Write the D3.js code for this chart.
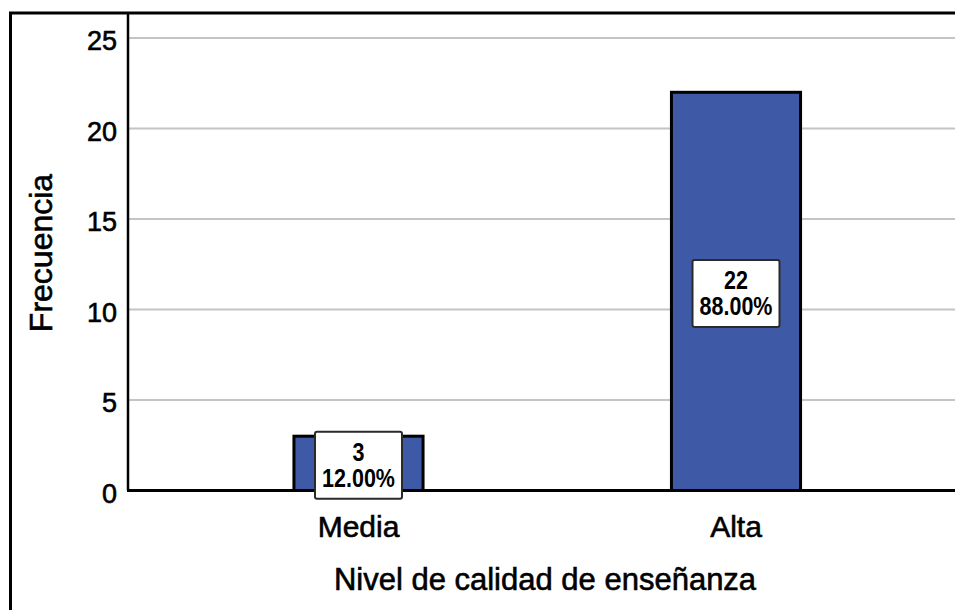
<!DOCTYPE html>
<html>
<head>
<meta charset="utf-8">
<script src="https://cdn.jsdelivr.net/npm/d3@7"></script>
<style>
  body { margin: 0; background: #fff; }
  text { font-family: "Liberation Sans", Arial, sans-serif; fill: #000; }
  .heavy { stroke: #000; stroke-width: 0.6px; }
</style>
</head>
<body>
<div id="chart"></div>
<script>
// Data
const categories = ['Media', 'Alta']
const counts = [3, 22]
const percents = ['12.00%', '88.00%']
const yTicks = [0, 5, 10, 15, 20, 25]

// Layout
const width = 955
const height = 610
const plotLeft = 128
const plotTop = 13
const plotBottom = 490.5
const barColor = '#3e59a6'

const svg = d3.select('#chart')
  .append('svg')
    .attr('width', width)
    .attr('height', height)

svg.append('rect')
  .attr('width', width).attr('height', height)
  .attr('fill', '#fff')

// Scales
const y = d3.scaleLinear().domain([0, 25]).range([plotBottom, 38])
const x = d3.scaleBand()
  .domain(categories)
  .range([169.75, 924.75])
  .paddingInner(0.658)
  .paddingOuter(0.329)

// Gridlines
svg.append('g')
  .selectAll('line')
  .data(yTicks.filter(d => d > 0))
  .enter()
  .append('line')
    .attr('x1', plotLeft).attr('x2', width + 5)
    .attr('y1', d => y(d)).attr('y2', d => y(d))
    .attr('stroke', '#c4c4c4')
    .attr('stroke-width', 2)

// Y axis labels
const yAxis = svg.append('g')
  .attr('transform', 'translate(' + plotLeft + ',0)')
  .call(d3.axisLeft(y).tickValues(yTicks).tickSize(0).tickPadding(11))
yAxis.select('.domain').remove()
yAxis.selectAll('text')
  .attr('class', 'heavy')
  .attr('font-size', 27)
  .attr('font-family', '"Liberation Sans", Arial, sans-serif')
  .attr('fill', '#000')
  .attr('y', 3)

// Bars
svg.selectAll('.bar')
  .data(counts)
  .enter()
  .append('rect')
    .attr('class', 'bar')
    .attr('x', (d, i) => x(categories[i]))
    .attr('y', d => y(d))
    .attr('width', x.bandwidth())
    .attr('height', d => plotBottom - y(d))
    .attr('fill', barColor)
    .attr('stroke', '#000')
    .attr('stroke-width', 3)

// Outer frame and axis lines
svg.append('rect')
  .attr('x', 10.5).attr('y', plotTop)
  .attr('width', width + 20).attr('height', height + 20)
  .attr('fill', 'none')
  .attr('stroke', '#000')
  .attr('stroke-width', 3)

svg.append('line')
  .attr('x1', plotLeft).attr('x2', plotLeft)
  .attr('y1', plotTop).attr('y2', plotBottom)
  .attr('stroke', '#000').attr('stroke-width', 2.5)

svg.append('line')
  .attr('x1', plotLeft - 1).attr('x2', width + 5)
  .attr('y1', plotBottom).attr('y2', plotBottom)
  .attr('stroke', '#000').attr('stroke-width', 3)

// Value label boxes
const boxW = 87
const boxH = 67
const labels = svg.selectAll('.vlabel')
  .data(counts)
  .enter()
  .append('g')
    .attr('class', 'vlabel')
    .attr('transform', (d, i) => 'translate(' + (x(categories[i]) + x.bandwidth() / 2) + ',' + (y(d / 2) + 2) + ')')

labels.append('rect')
  .attr('x', -boxW / 2).attr('y', -boxH / 2)
  .attr('width', boxW).attr('height', boxH)
  .attr('rx', 2)
  .attr('fill', '#fff')
  .attr('stroke', '#2a2a2a')
  .attr('stroke-width', 2)

labels.append('text')
  .attr('text-anchor', 'middle')
  .attr('transform', 'translate(0,-4) scale(0.86,1)')
  .attr('font-size', 25)
  .attr('font-weight', 'bold')
  .text(d => d)

labels.append('text')
  .attr('text-anchor', 'middle')
  .attr('transform', 'translate(0,22) scale(0.86,1)')
  .attr('font-size', 25)
  .attr('font-weight', 'bold')
  .text((d, i) => percents[i])

// Category labels
svg.selectAll('.xlabel')
  .data(categories)
  .enter()
  .append('text')
    .attr('class', 'xlabel heavy')
    .attr('x', d => x(d) + x.bandwidth() / 2)
    .attr('y', 537)
    .attr('text-anchor', 'middle')
    .attr('font-size', 30)
    .text(d => d)

// Axis titles
svg.append('text')
  .attr('class', 'heavy')
  .attr('x', 545).attr('y', 590)
  .attr('text-anchor', 'middle')
  .attr('font-size', 31)
  .text('Nivel de calidad de enseñanza')

svg.append('text')
  .attr('class', 'heavy')
  .attr('transform', 'translate(52,253) rotate(-90)')
  .attr('text-anchor', 'middle')
  .attr('font-size', 32)
  .text('Frecuencia')
</script>
</body>
</html>
